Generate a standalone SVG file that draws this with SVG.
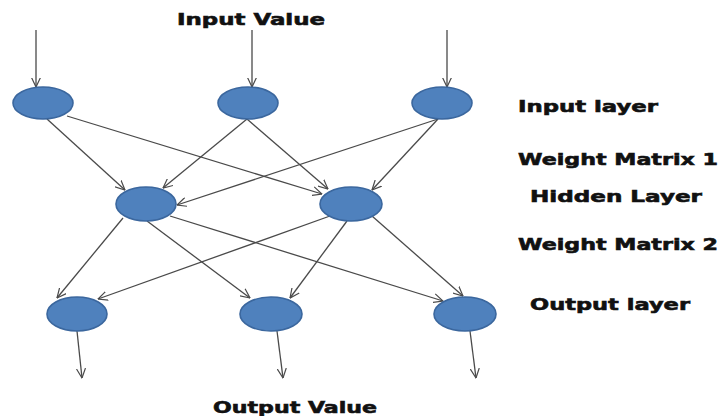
<svg xmlns="http://www.w3.org/2000/svg" width="723" height="416" viewBox="0 0 723 416">
  <defs>
    <marker id="arrow" viewBox="0 0 10 10" refX="9.5" refY="5" markerWidth="10" markerHeight="10" markerUnits="userSpaceOnUse" orient="auto">
      <path d="M0,0.5 L9.5,5 L0,9.5" fill="none" stroke="#4a4a4a" stroke-width="1.2"/>
    </marker>
  </defs>
  <style>
    .node { fill: #4f81bd; stroke: #3b679e; stroke-width: 1.6; }
    .edge { stroke: #4a4a4a; stroke-width: 1.3; fill: none; marker-end: url(#arrow); }
    .label { font-family: "DejaVu Sans", "Liberation Sans", sans-serif; font-weight: bold; font-size: 16px; fill: #111; stroke: #111; stroke-width: 0.6; }
  </style>
  <rect width="723" height="416" fill="#ffffff"/>

  <!-- connectors -->
  <g id="connectors">
    <!-- inputs into the input layer -->
    <line class="edge" x1="36" y1="30" x2="36" y2="87"/>
    <line class="edge" x1="252" y1="30" x2="252" y2="87"/>
    <line class="edge" x1="447" y1="30" x2="447" y2="87"/>
    <!-- weight matrix 1 -->
    <line class="edge" x1="47" y1="119" x2="125" y2="190"/>
    <line class="edge" x1="67" y1="116" x2="322" y2="194"/>
    <line class="edge" x1="247" y1="119" x2="163" y2="188"/>
    <line class="edge" x1="247" y1="119" x2="328" y2="189"/>
    <line class="edge" x1="438" y1="119" x2="177" y2="205"/>
    <line class="edge" x1="438" y1="119" x2="372" y2="190"/>
    <!-- weight matrix 2 -->
    <line class="edge" x1="123" y1="218" x2="57" y2="298"/>
    <line class="edge" x1="147" y1="221" x2="250" y2="298"/>
    <line class="edge" x1="170" y1="216" x2="443" y2="301"/>
    <line class="edge" x1="330" y1="216" x2="98" y2="299"/>
    <line class="edge" x1="347" y1="221" x2="290" y2="298"/>
    <line class="edge" x1="372" y1="216" x2="463" y2="296"/>
    <!-- output layer to outputs -->
    <line class="edge" x1="77" y1="331" x2="82" y2="378"/>
    <line class="edge" x1="277" y1="331" x2="283" y2="378"/>
    <line class="edge" x1="470" y1="331" x2="476" y2="378"/>
  </g>

  <!-- input layer -->
  <g id="in1"><ellipse class="node" cx="43" cy="103" rx="30" ry="16"/></g>
  <g id="in2"><ellipse class="node" cx="248" cy="103" rx="30" ry="16"/></g>
  <g id="in3"><ellipse class="node" cx="442" cy="103" rx="30" ry="16"/></g>

  <!-- hidden layer -->
  <g id="hid1"><ellipse class="node" cx="146" cy="204" rx="30" ry="17"/></g>
  <g id="hid2"><ellipse class="node" cx="351" cy="204" rx="31" ry="17"/></g>

  <!-- output layer -->
  <g id="out1"><ellipse class="node" cx="77" cy="314" rx="30" ry="17"/></g>
  <g id="out2"><ellipse class="node" cx="271" cy="314" rx="31" ry="17"/></g>
  <g id="out3"><ellipse class="node" cx="465" cy="314" rx="31" ry="17"/></g>

  <!-- labels -->
  <g id="labels">
    <text class="label" x="177" y="25" textLength="148" lengthAdjust="spacingAndGlyphs">Input Value</text>
    <text class="label" x="518" y="112" textLength="140" lengthAdjust="spacingAndGlyphs">Input layer</text>
    <text class="label" x="518" y="165" textLength="200" lengthAdjust="spacingAndGlyphs">Weight Matrix 1</text>
    <text class="label" x="530" y="202" textLength="172" lengthAdjust="spacingAndGlyphs">Hidden Layer</text>
    <text class="label" x="518" y="250" textLength="200" lengthAdjust="spacingAndGlyphs">Weight Matrix 2</text>
    <text class="label" x="530" y="310" textLength="160" lengthAdjust="spacingAndGlyphs">Output layer</text>
    <text class="label" x="213" y="413" textLength="164" lengthAdjust="spacingAndGlyphs">Output Value</text>
  </g>
</svg>
